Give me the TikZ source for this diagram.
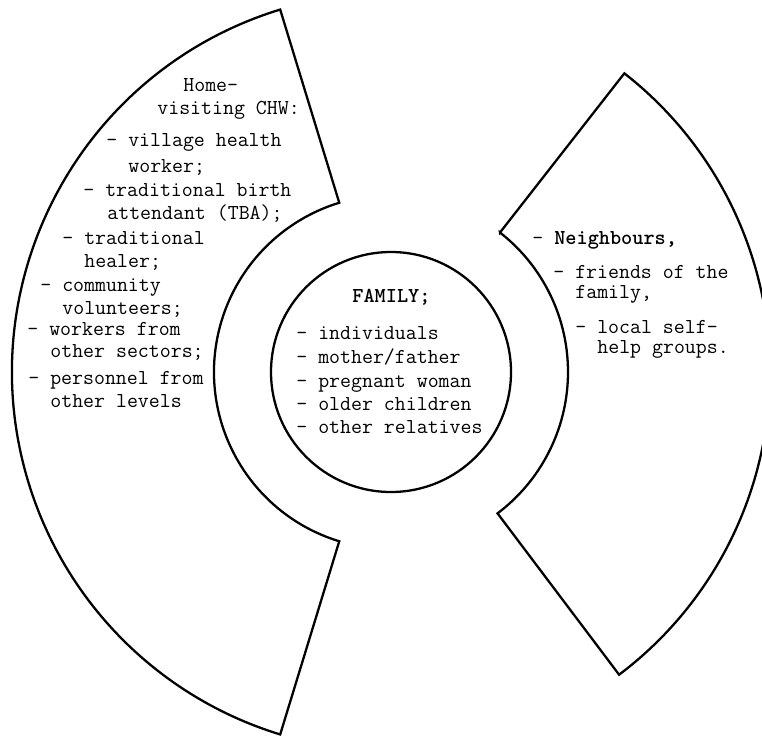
\documentclass[tikz,border=0pt]{standalone}
\usepackage{fontspec}

\begin{document}
\begin{tikzpicture}[scale=0.2]
\tikzstyle{every node}+=[inner sep=0pt, anchor=base west, font=\ttfamily\fontsize{12.1}{14}\selectfont]
\useasboundingbox (0,0) rectangle (76.2,-73.7);

\draw [black, line width=1.3pt] (39.1,-37.2) circle (12);
\draw [black, line width=1.3pt, shift={(39.1,-37.2)}] (107:17.7) -- (107:37.9) arc (107:253:37.9) -- (253:17.7) arc (253:107:17.7) -- cycle;
\draw [black, line width=1.3pt, shift={(39.1,-37.2)}] (52:17.7) -- (52:37.9) arc (52:-53:37.9) -- (-53:17.7) arc (-53:52:17.7) -- cycle;

\draw (18.3,-9.15) node (home1) {Home-};
\draw (15.7,-11.4) node (home2) {visiting CHW:};
\draw (10.6,-14.6) node (vhw1) {- village health};
\draw (12.8,-17.2) node (vhw2) {worker;};
\draw (8.3,-19.6) node (tba1) {- traditional birth};
\draw (10.7,-21.9) node (tba2) {attendant (TBA);};
\draw (6.2,-24.4) node (heal1) {- traditional};
\draw (8.4,-26.7) node (heal2) {healer;};
\draw (4.0,-29.1) node (vol1) {- community};
\draw (6.2,-31.4) node (vol2) {volunteers;};
\draw (2.7,-33.5) node (sect1) {- workers from};
\draw (5.0,-35.7) node (sect2) {other sectors;};
\draw (2.8,-38.4) node (lev1) {- personnel from};
\draw (5.0,-40.7) node (lev2) {other levels};

\draw (35.2,-30.2) node (fam) {\bfseries FAMILY;};
\draw (29.6,-33.9) node (fam1) {- individuals};
\draw (29.6,-36.3) node (fam2) {- mother/father};
\draw (29.6,-38.7) node (fam3) {- pregnant woman};
\draw (29.6,-41.0) node (fam4) {- older children};
\draw (29.6,-43.3) node (fam5) {- other relatives};

\draw (53.2,-24.4) node (nb) {- \bfseries Neighbours,};
\draw (55.3,-27.8) node (fr1) {- friends of the};
\draw (57.5,-29.8) node (fr2) {family,};
\draw (57.5,-33.3) node (shg1) {- local self-};
\draw (59.7,-35.3) node (shg2) {help groups.};
\end{tikzpicture}
\end{document}
